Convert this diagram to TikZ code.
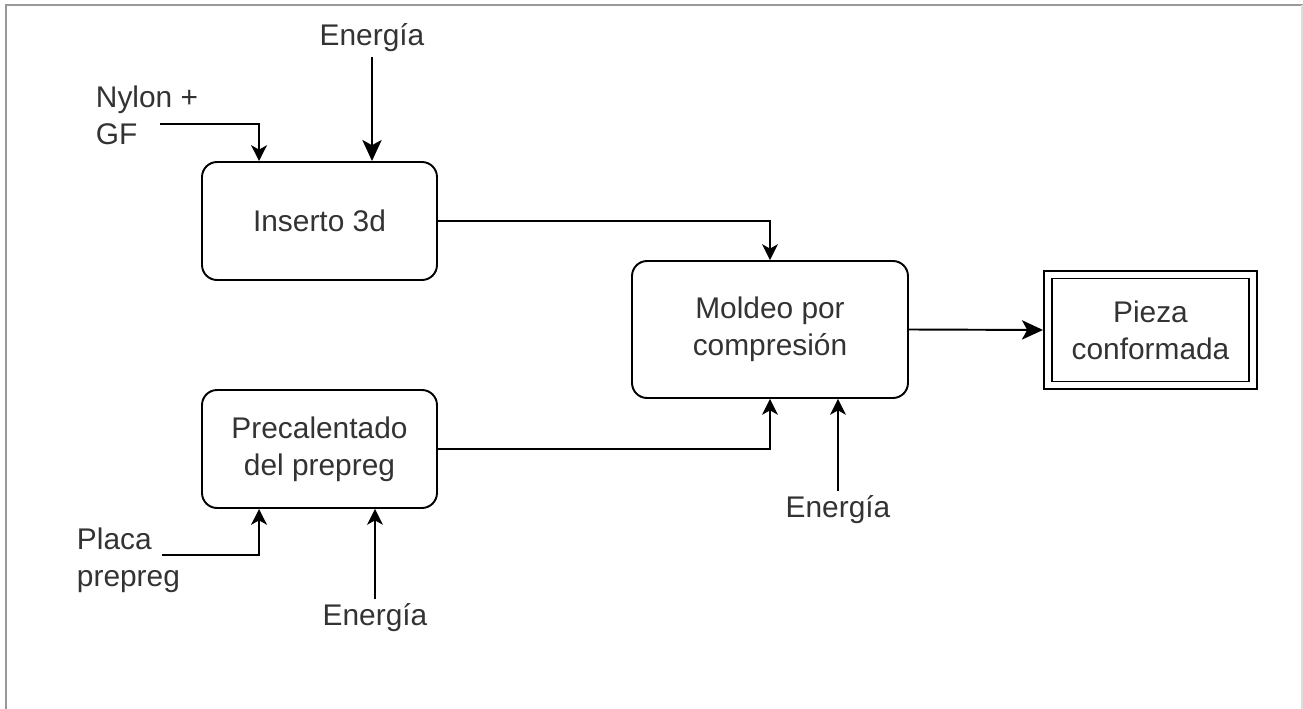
\documentclass[tikz,border=0pt]{standalone}
\usepackage{fontspec}
\setmainfont{Liberation Sans}
\usepackage{xcolor}
\usetikzlibrary{arrows.meta,calc}
\definecolor{txt}{HTML}{333333}
\definecolor{framegray}{HTML}{999999}
\definecolor{framelight}{HTML}{DDDDDD}
\tikzset{every picture/.style={line width=1.1pt}}
\tikzset{
  stepbox/.style={draw, rounded corners=0.3cm, minimum width=4.7cm, minimum height=2.36cm, align=center, text=txt},
  endbox/.style={draw, double, double distance=0.12cm, minimum width=4.1cm, minimum height=2.22cm, outer sep=0.1cm, align=center, text=txt},
  lbl/.style={inner sep=2pt, text=txt},
  arr/.style={-{Stealth[length=9pt,width=9pt,inset=2.5pt]}},
  bigarr/.style={-{Stealth[length=12pt,width=11pt,inset=3pt]}}
}

\begin{document}
\begin{tikzpicture}[x=0.02cm,y=-0.02cm,font=\fontsize{17}{21}\selectfont]
\useasboundingbox (0,0) rectangle (1303,709);
\draw[framegray] (6,709) -- (6,5) -- (1303,5);
\draw[framelight] (1302,5) -- (1302,709);
%
\node[stepbox] (inserto) at (319.5,221) {Inserto 3d};
\node[stepbox] (precal) at (319.5,449) {Precalentado\\del prepreg};
\node[stepbox, minimum width=5.52cm, minimum height=2.74cm] (moldeo) at (770,329.5) {Moldeo por\\compresión};
\node[endbox] (pieza) at (1150.5,330) {Pieza\\conformada};
%
\node[lbl] (ener1) at (372,38) {Energía};
\node[lbl, align=left, anchor=west] (nylon) at (91.5,115) {Nylon +\\GF};
\node[lbl, align=left, anchor=west] (placa) at (72.5,560) {Placa\\prepreg};
\node[lbl] (ener2) at (375,618) {Energía};
\node[lbl] (ener3) at (838,510) {Energía};
\coordinate (nyl) at (160,124);
\coordinate (pla) at (162,555);
%
\draw[arr] (nyl) -| ($(inserto.north west)+(58,0)$);
\draw[bigarr] (ener1) -- (ener1 |- inserto.north);
\draw[arr] (pla) -| ($(precal.south west)+(58,0)$);
\draw[arr] (ener2) -- (ener2 |- precal.south);
\draw[arr] (inserto.east) -| (moldeo.north);
\draw[arr] (precal.east) -| (moldeo.south);
\draw[arr] (ener3) -- (ener3 |- moldeo.south);
\draw[bigarr] (moldeo.east) -- (pieza.west);
\end{tikzpicture}
\end{document}
